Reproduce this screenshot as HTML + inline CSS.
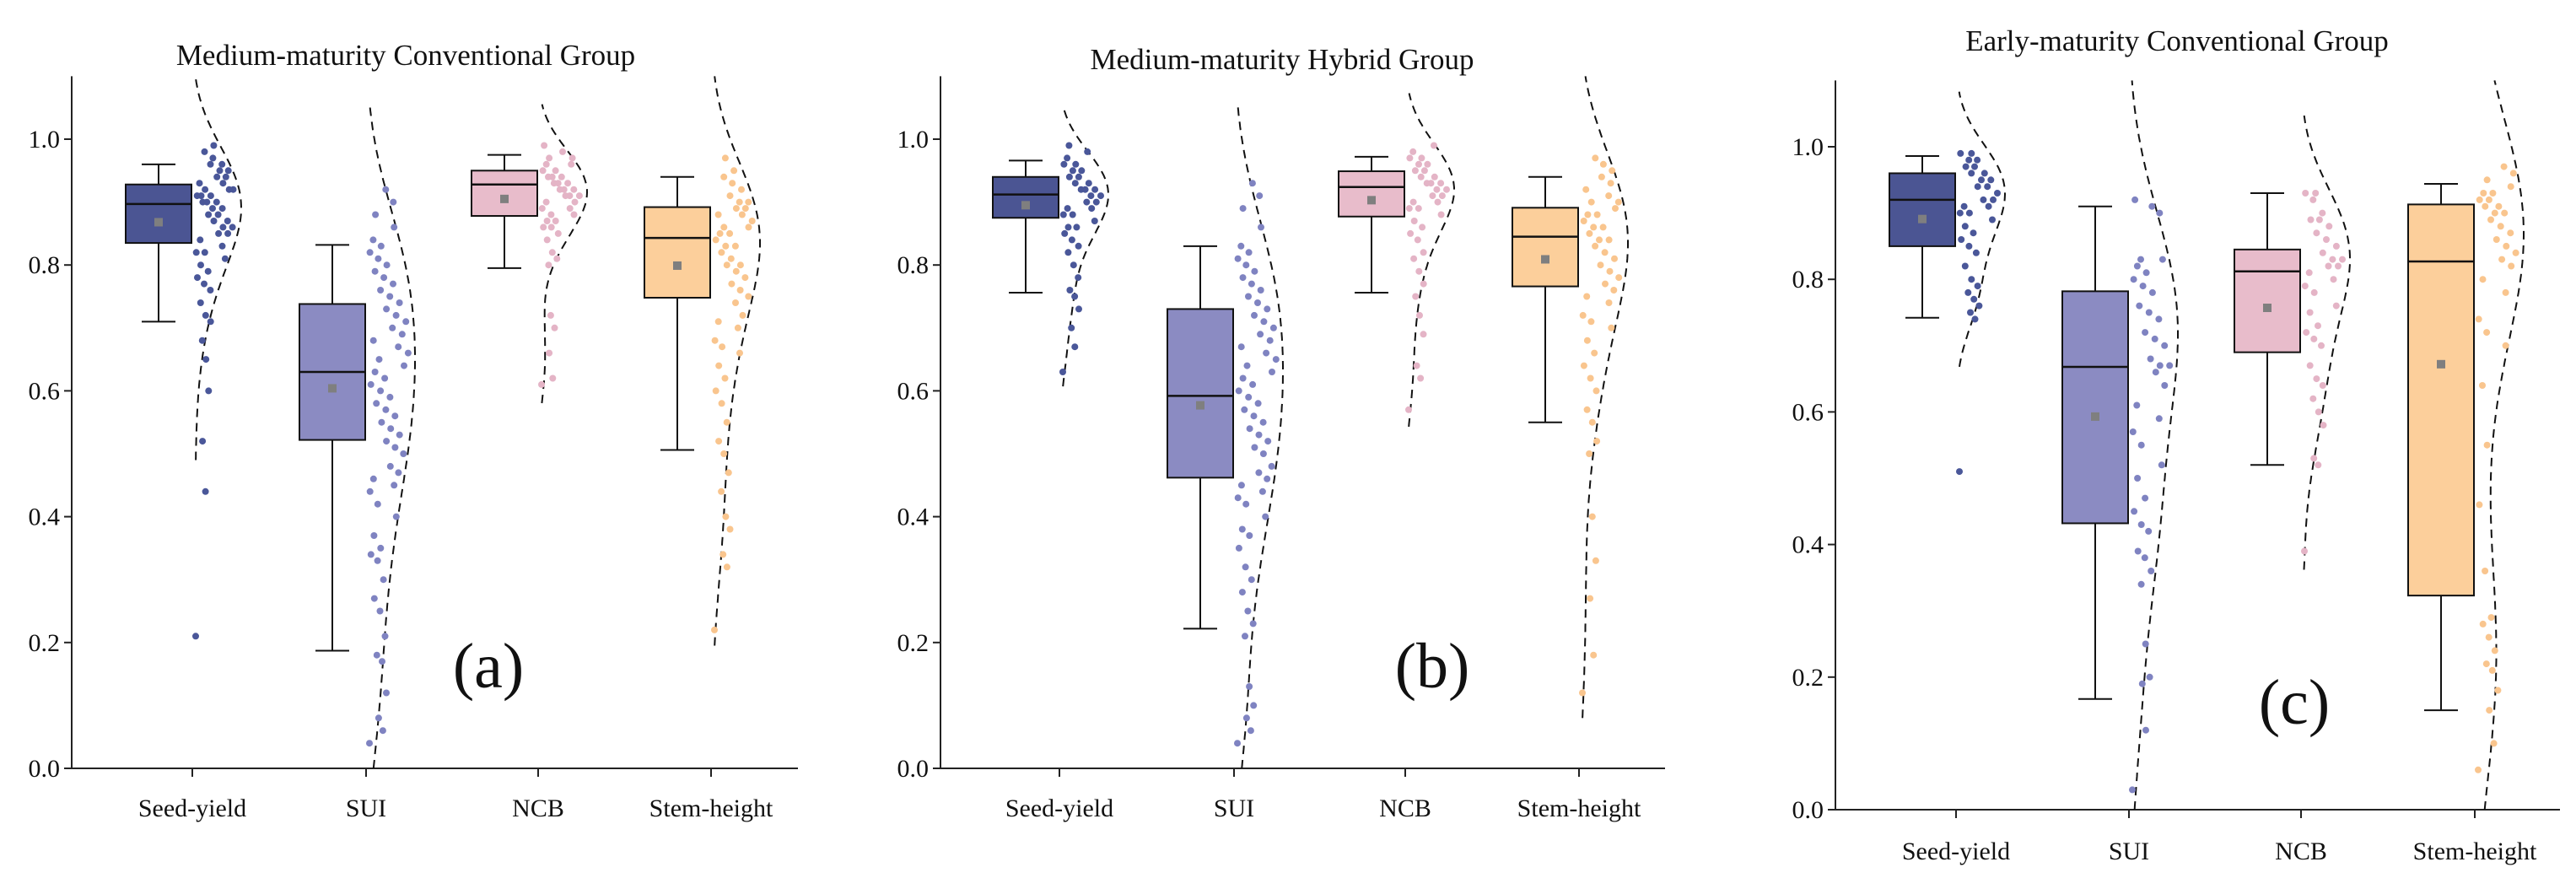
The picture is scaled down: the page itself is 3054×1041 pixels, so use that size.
<!DOCTYPE html>
<html><head><meta charset="utf-8">
<style>
html,body{margin:0;padding:0;background:#fff;}
svg{display:block;font-family:"Liberation Serif",serif;}
</style></head>
<body>
<svg id="chart" width="3054" height="1041" viewBox="0 0 3054 1041" xmlns="http://www.w3.org/2000/svg"></svg>
<script>
const categories = ["Seed-yield","SUI","NCB","Stem-height"];
const panelTitles = ["Medium-maturity Conventional Group","Medium-maturity Hybrid Group","Early-maturity Conventional Group"];
const panelLetters = ["(a)","(b)","(c)"];
const yTicks = [0.0,0.2,0.4,0.6,0.8,1.0];
// box stats per panel: [whiskerLow, Q1, median, Q3, whiskerHigh, mean]
const statsA = [[0.71,0.835,0.897,0.928,0.96,0.868],[0.187,0.522,0.63,0.738,0.832,0.604],[0.795,0.878,0.928,0.95,0.975,0.905],[0.506,0.748,0.843,0.892,0.94,0.799]];
const statsB = [[0.756,0.875,0.912,0.94,0.966,0.895],[0.222,0.462,0.592,0.73,0.83,0.577],[0.756,0.877,0.924,0.949,0.972,0.903],[0.55,0.766,0.845,0.891,0.94,0.809]];
const statsC = [[0.742,0.85,0.92,0.96,0.986,0.891],[0.167,0.432,0.668,0.782,0.91,0.593],[0.52,0.69,0.812,0.845,0.93,0.757],[0.15,0.323,0.827,0.913,0.944,0.672]];
const ptsA = [
 [.21,.44,.52,.60,.65,.68,.71,.72,.74,.76,.77,.78,.79,.8,.81,.82,.82,.83,.84,.85,.85,.86,.86,.87,.87,.88,.88,.89,.89,.9,.9,.9,.91,.91,.91,.92,.92,.92,.93,.93,.94,.94,.95,.95,.96,.96,.97,.98,.99],
 [.04,.06,.08,.12,.17,.18,.21,.25,.27,.3,.33,.34,.35,.37,.4,.42,.44,.45,.46,.47,.48,.5,.51,.52,.53,.54,.55,.56,.57,.58,.59,.6,.61,.62,.63,.64,.65,.66,.67,.68,.69,.7,.71,.72,.73,.74,.75,.76,.77,.78,.79,.8,.81,.82,.83,.84,.86,.88,.9,.92],
 [.61,.62,.66,.7,.72,.8,.81,.82,.84,.85,.86,.86,.87,.87,.88,.88,.89,.89,.9,.9,.91,.91,.91,.92,.92,.92,.93,.93,.93,.94,.94,.94,.95,.95,.96,.96,.97,.97,.98,.99],
 [.22,.32,.34,.38,.4,.44,.47,.5,.52,.55,.58,.6,.62,.64,.66,.67,.68,.7,.71,.72,.74,.75,.76,.77,.78,.79,.8,.8,.81,.82,.83,.83,.84,.85,.85,.86,.86,.87,.88,.88,.89,.89,.9,.9,.91,.92,.93,.94,.95,.97]];
const ptsB = [
 [.63,.67,.7,.73,.75,.76,.78,.8,.82,.83,.84,.85,.86,.86,.87,.88,.88,.89,.89,.9,.9,.91,.91,.92,.92,.92,.93,.93,.94,.94,.95,.95,.96,.96,.97,.98,.99],
 [.04,.06,.08,.1,.13,.21,.23,.25,.28,.3,.32,.35,.37,.38,.4,.42,.43,.44,.45,.46,.47,.48,.5,.51,.52,.53,.54,.55,.56,.57,.58,.59,.6,.61,.62,.63,.64,.65,.66,.67,.68,.69,.7,.71,.72,.73,.74,.75,.76,.77,.78,.79,.8,.81,.82,.83,.86,.89,.91,.93],
 [.57,.62,.64,.69,.72,.75,.77,.79,.81,.82,.84,.85,.86,.87,.88,.89,.89,.9,.9,.91,.91,.92,.92,.93,.93,.93,.94,.94,.95,.95,.96,.96,.97,.97,.98,.99],
 [.12,.18,.27,.33,.4,.5,.52,.55,.57,.6,.62,.64,.66,.68,.7,.71,.72,.74,.75,.76,.77,.78,.79,.8,.81,.82,.83,.84,.84,.85,.86,.86,.87,.88,.88,.89,.9,.9,.91,.92,.93,.94,.95,.96,.97]];
const ptsC = [
 [.51,.74,.75,.76,.77,.78,.79,.8,.82,.84,.85,.86,.87,.88,.89,.9,.9,.91,.91,.92,.92,.93,.94,.94,.95,.95,.96,.96,.97,.97,.98,.98,.99,.99],
 [.03,.12,.19,.2,.25,.34,.36,.38,.39,.42,.43,.45,.47,.5,.52,.55,.57,.59,.61,.64,.66,.67,.67,.68,.7,.71,.72,.74,.75,.76,.78,.79,.8,.81,.82,.83,.83,.9,.91,.92],
 [.39,.52,.53,.58,.6,.62,.64,.65,.67,.7,.71,.72,.73,.75,.76,.78,.79,.8,.81,.82,.82,.83,.83,.84,.85,.86,.87,.88,.89,.89,.9,.92,.93,.93],
 [.06,.1,.15,.18,.21,.22,.24,.26,.28,.29,.36,.46,.55,.64,.7,.72,.74,.78,.8,.82,.83,.84,.85,.86,.87,.88,.89,.9,.9,.91,.91,.92,.92,.93,.93,.94,.95,.96,.97]];

const boxFill = ["#4b5593","#8b8bc2","#e8bccb","#fccf9b"];
const ptFill = ["#4a5799","#7f83c1","#e4b4c6","#f9c58e"];

const layouts = [
 {x0:85,x1:946,y0:911,k:746,ticks:[228,434,638,843],tx:481,ty:77,lx:579,ly:815,cy:968,th:0.07},
 {x0:1115,x1:1974,y0:911,k:746,ticks:[1256,1463,1666,1872],tx:1520,ty:82,lx:1698,ly:815,cy:968,th:0.07},
 {x0:2176,x1:3035,y0:960,k:786,ticks:[2319,2524,2728,2934],tx:2581,ty:60,lx:2720,ly:858,cy:1019,th:0.06}];
const allStats=[statsA,statsB,statsC], allPts=[ptsA,ptsB,ptsC];

const svg=document.getElementById('chart');
const NS='http://www.w3.org/2000/svg';
function mk(tag,attrs,parent){const e=document.createElementNS(NS,tag);for(const k in attrs)e.setAttribute(k,attrs[k]);(parent||svg).appendChild(e);return e;}

function kde(vals,y){const n=vals.length;const m=vals.reduce((a,b)=>a+b,0)/n;const sd=Math.sqrt(vals.reduce((a,b)=>a+(b-m)*(b-m),0)/(n-1));const bw=1.06*sd*Math.pow(n,-0.2);let s=0;for(const v of vals){const z=(y-v)/bw;s+=Math.exp(-0.5*z*z);}return {d:s/(n*bw),bw:bw};}

layouts.forEach((L,p)=>{
  const g=mk('g',{});
  
  
  const Y=v=>L.y0-v*L.k;
  const yTop=Y(1.1);
  const title=mk('text',{x:L.tx,y:L.ty,'text-anchor':'middle','font-size':35,fill:'#111'},g);
  title.textContent=panelTitles[p];
  
  
  const ya=mk('line',{x1:L.x0,y1:yTop,x2:L.x0,y2:L.y0,stroke:'#222','stroke-width':2},g);
  
  
  const xa=mk('line',{x1:L.x0,y1:L.y0,x2:L.x1,y2:L.y0,stroke:'#222','stroke-width':2},g);
  
  
  yTicks.forEach(t=>{
    mk('line',{x1:L.x0-9,y1:Y(t),x2:L.x0,y2:Y(t),stroke:'#222','stroke-width':2},g);
    const tl=mk('text',{x:L.x0-14,y:Y(t)+10,'text-anchor':'end','font-size':30,fill:'#111'},g);
    tl.textContent=t.toFixed(1);
    
    
  });
  const lt=mk('text',{x:L.lx,y:L.ly,'text-anchor':'middle','font-size':76,fill:'#111'},g);
  lt.textContent=panelLetters[p];
  
  
  categories.forEach((c,i)=>{
    const tx=L.ticks[i];
    mk('line',{x1:tx,y1:L.y0,x2:tx,y2:L.y0+10,stroke:'#222','stroke-width':2},g);
    const cl=mk('text',{x:tx,y:L.cy,'text-anchor':'middle','font-size':30,fill:'#111'},g);
    cl.textContent=c;
    
    
    const vals=allPts[p][i];
    let maxd=0;const samples=[];
    const bw=kde(vals,0.5).bw;
    const lo=Math.max(0,Math.min(...vals)-3*bw), hi=Math.min(1.1,Math.max(...vals)+3*bw);
    for(let y=lo;y<=hi+1e-9;y+=0.005){const d=kde(vals,y).d;samples.push([y,d]);if(d>maxd)maxd=d;}
    const W=58;
    let dstr='';samples.filter(s=>s[1]>maxd*L.th).forEach((s,j)=>{dstr+=(j?'L':'M')+(tx+s[1]/maxd*W).toFixed(1)+','+Y(s[0]).toFixed(1);});
    const cv=mk('path',{d:dstr,fill:'none',stroke:'#111','stroke-width':2,'stroke-dasharray':'10,7'},g);
    
    
    vals.forEach((v,j)=>{
      const d=kde(vals,v).d/maxd;
      const frac=(j*0.618034+0.13*(j%3))%1;
      const px=tx+4+frac*(0.3+0.7*d)*46;
      const dot=mk('circle',{cx:px.toFixed(1),cy:Y(v).toFixed(1),r:4,fill:ptFill[i]},g);
      
      
    });
    const s=allStats[p][i];const bx=tx-79,bwid=78,cx=bx+bwid/2;
    mk('line',{x1:cx,y1:Y(s[0]),x2:cx,y2:Y(s[1]),stroke:'#111','stroke-width':2},g);
    mk('line',{x1:cx,y1:Y(s[3]),x2:cx,y2:Y(s[4]),stroke:'#111','stroke-width':2},g);
    mk('line',{x1:cx-20,y1:Y(s[0]),x2:cx+20,y2:Y(s[0]),stroke:'#111','stroke-width':2},g);
    mk('line',{x1:cx-20,y1:Y(s[4]),x2:cx+20,y2:Y(s[4]),stroke:'#111','stroke-width':2},g);
    const box=mk('rect',{x:bx,y:Y(s[3]),width:bwid,height:Y(s[1])-Y(s[3]),fill:boxFill[i],stroke:'#111','stroke-width':2},g);
    
    
    mk('line',{x1:bx,y1:Y(s[2]),x2:bx+bwid,y2:Y(s[2]),stroke:'#111','stroke-width':2.5},g);
    const mn=mk('rect',{x:cx-5,y:Y(s[5])-5,width:10,height:10,fill:'#7f7f7f'},g);
    
    
  });
});
</script>
</body></html>
